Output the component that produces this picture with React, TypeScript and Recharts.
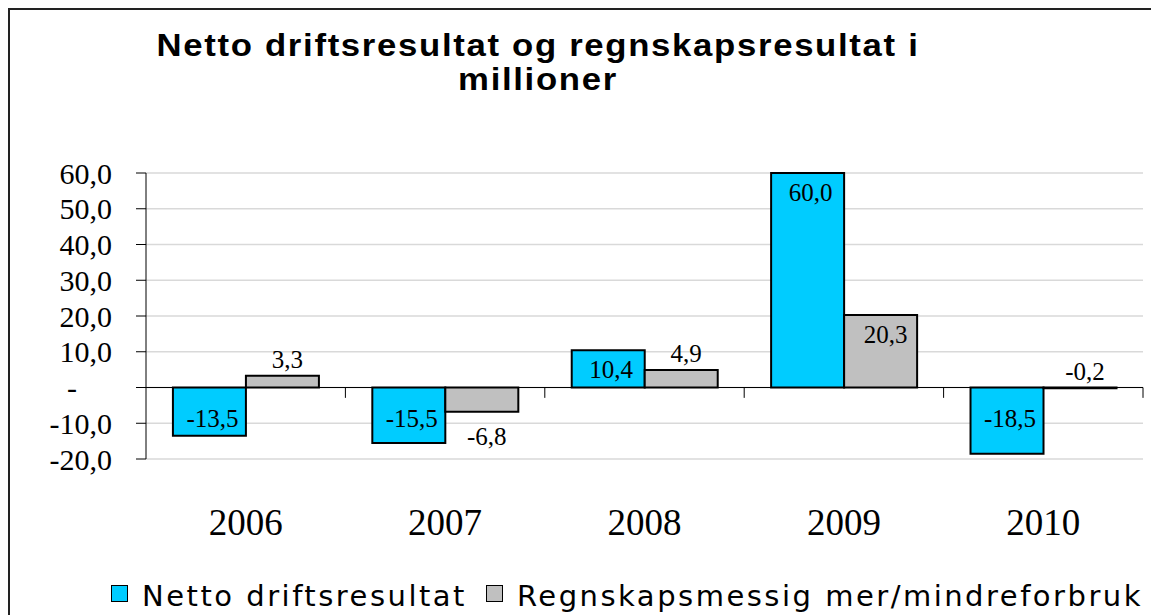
import React from 'react';
import { BarChart, Bar, XAxis, YAxis, CartesianGrid, ReferenceLine, LabelList } from 'recharts';

const categories = ['2006', '2007', '2008', '2009', '2010'];
const nettoDrift = [-13.5, -15.5, 10.4, 60.0, -18.5];
const regnskap = [3.3, -6.8, 4.9, 20.3, -0.2];
const yTicks = [-20, -10, 0, 10, 20, 30, 40, 50, 60];
const seriesNames = ['Netto driftsresultat', 'Regnskapsmessig mer/mindreforbruk'];
const seriesColors = ['#00CCFF', '#C0C0C0'];

const data = categories.map((year, i) => ({ year, netto: nettoDrift[i], regn: regnskap[i] }));

const fmt = (v: number) => v.toFixed(1).replace('.', ',');

const serif = '"Liberation Serif", "Times New Roman", serif';

function YTick({ x, y, payload }: any) {
    const v = payload.value;
    return (
        <text x={v === 0 ? x - 35 : x} y={y} dy="0.355em" textAnchor="end" fontFamily={serif} fontSize={30} fill="#000">
            {v === 0 ? '-' : fmt(v)}
        </text>
    );
}

function XTick({ x, y, payload }: any) {
    return (
        <text x={x} y={y + 76} textAnchor="middle" fontFamily={serif} fontSize={37} fill="#000">
            {payload.value}
        </text>
    );
}

// label placement: cyan inside end (positive) / near base (negative), gray outside unless bar is tall
function makeLabel(series: 'netto' | 'regn') {
    return (props: any) => {
        const { x, y, width, height, value } = props;
        const top = Math.min(y, y + height);
        const bottom = Math.max(y, y + height);
        const len = bottom - top;
        const cx = x + width / 2 + (series === 'netto' ? 3 : 5);
        let cy;
        if (series === 'netto') {
            cy = value >= 0 ? top + 19 : top + 31;
        } else if (len > 40) {
            cy = value >= 0 ? top + 20 : bottom - 20;
        } else if (value >= 0 || len < 5) {
            cy = top - 16;
        } else {
            cy = bottom + 25;
        }
        return (
            <text x={cx} y={cy} dominantBaseline="central" textAnchor="middle" fontFamily={serif} fontSize={25} fill="#000">
                {fmt(value)}
            </text>
        );
    };
}

export default function App() {
    return (
        <>
            <style>{'html, body { overflow: hidden; margin: 0; }'}</style>
            <div style={{ position: 'absolute', left: 8, top: 8, width: 1141, height: 605, borderTop: '2px solid #222', borderLeft: '2px solid #222', overflow: 'hidden', background: '#fff' }}>
                <div
                    style={{
                        position: 'absolute', left: 3, top: 19, width: 1050, textAlign: 'center',
                        fontFamily: '"Liberation Sans", Arial, sans-serif', fontWeight: 'bold', fontSize: 31,
                        letterSpacing: 1.5, lineHeight: '34px', color: '#000',
                        transform: 'scaleX(1.12)', transformOrigin: 'center top',
                    }}
                >
                    Netto driftsresultat og regnskapsresultat i
                    <br />
                    millioner
                </div>
                <BarChart width={1141} height={605} data={data} margin={{ top: 163, right: 8, left: 0, bottom: 66 }} barCategoryGap="13.5%" barGap={0}>
                    <CartesianGrid vertical={false} stroke="#d9d9d9" strokeWidth={1.5} />
                    <XAxis dataKey="year" axisLine={false} tickLine={false} tickSize={0} tickMargin={0} height={90} tick={<XTick />} interval={0} />
                    <YAxis
                        domain={[-20, 60]}
                        ticks={yTicks}
                        interval={0}
                        width={136}
                        tickSize={10}
                        tickMargin={24}
                        stroke="#000"
                        tickLine={{ stroke: '#000' }}
                        tick={<YTick />}
                    />
                    <ReferenceLine y={0} stroke="#000" strokeWidth={1} />
                    {categories.map((c) => (
                        <ReferenceLine
                            key={c}
                            segment={[{ x: c, y: 0 }, { x: c, y: -2.9 }]}
                            position="end"
                            stroke="#000"
                            strokeWidth={1}
                            ifOverflow="visible"
                        />
                    ))}
                    <Bar dataKey="netto" name={seriesNames[0]} fill={seriesColors[0]} stroke="#000" strokeWidth={2} isAnimationActive={false}>
                        <LabelList dataKey="netto" content={makeLabel('netto')} />
                    </Bar>
                    <Bar dataKey="regn" name={seriesNames[1]} fill={seriesColors[1]} stroke="#000" strokeWidth={2} isAnimationActive={false}>
                        <LabelList dataKey="regn" content={makeLabel('regn')} />
                    </Bar>
                </BarChart>
                <div
                    style={{
                        position: 'absolute', left: 101, top: 569, display: 'flex', alignItems: 'flex-start',
                        whiteSpace: 'nowrap', fontFamily: '"DejaVu Sans", Verdana, sans-serif', fontSize: 29,
                        letterSpacing: 2.5, lineHeight: '34px', color: '#000',
                    }}
                >
                    {seriesNames.map((name, i) => (
                        <div key={name} style={{ display: 'flex', alignItems: 'flex-start', marginRight: 19 }}>
                            <span style={{ display: 'inline-block', boxSizing: 'border-box', width: 17, height: 17, marginTop: 6, marginRight: 14, background: seriesColors[i], border: '1.5px solid #000' }} />
                            <span>{name}</span>
                        </div>
                    ))}
                </div>
            </div>
        </>
    );
}
